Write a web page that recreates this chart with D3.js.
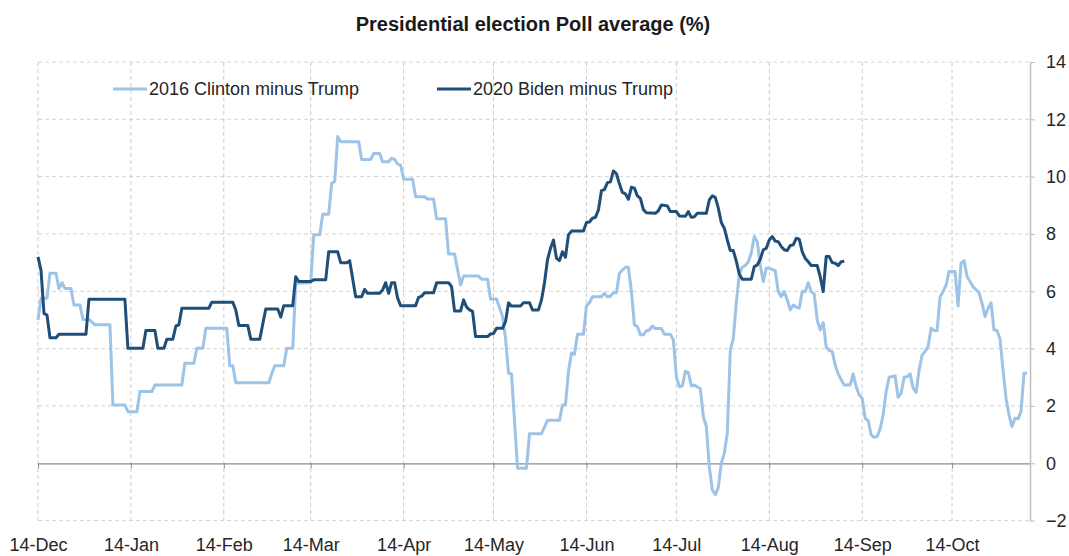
<!DOCTYPE html>
<html>
<head>
<meta charset="utf-8">
<script src="https://cdn.jsdelivr.net/npm/d3@7"></script>
<style>
  body { margin: 0; background: #ffffff; }
  svg { display: block; }
  text { font-family: "Liberation Sans", Arial, sans-serif; fill: #262626; }
</style>
</head>
<body>
<svg id="chart" width="1069" height="556"></svg>
<script>
// Campaign calendar: day 0 is 14 December of the pre-election year.
const startDate = new Date(2015, 11, 14);
const endDate = new Date(2016, 10, 9);

// Month labels along the bottom (the 14th of each month)
const monthLabels = ["14-Dec", "14-Jan", "14-Feb", "14-Mar", "14-Apr", "14-May",
                     "14-Jun", "14-Jul", "14-Aug", "14-Sep", "14-Oct"];
const yTicks = [-2, 0, 2, 4, 6, 8, 10, 12, 14];

// 2016: Clinton minus Trump (days since 14 Dec, poll-average margin in points)
const clintonDays = [0,1,3,4,6,7,8,9,11,12,14,15,17,19,24,25,29,30,33,34,38,39,48,49,52,53,55,56,63,64,65,66,77,78,79,82,83,85,86,91,92,94,95,97,98,99,100,101,107,108,111,112,114,115,117,118,119,120,121,122,125,126,129,130,132,133,136,137,139,141,142,147,148,150,151,153,155,156,157,158,160,163,164,168,170,174,175,176,177,178,179,180,182,183,184,185,188,189,190,191,192,193,194,195,196,197,198,199,200,201,202,203,204,205,206,208,209,211,212,213,214,215,216,217,218,219,221,222,223,224,225,226,227,228,229,230,231,232,233,234,235,236,237,238,239,240,241,242,243,244,246,247,248,249,250,251,252,253,254,255,256,257,258,259,260,261,262,263,264,265,266,267,268,269,271,272,273,274,275,276,277,278,279,280,281,282,283,284,286,287,288,289,290,291,292,293,294,295,296,297,298,299,300,301,302,303,304,306,307,308,309,310,311,312,314,315,316,317,318,319,320,321,322,323,324,325,326,327,328,329,330];
const clintonValues = [5.0,5.76,5.76,6.63,6.63,6.1,6.3,6.1,6.1,5.52,5.52,5.02,5.02,4.83,4.83,2.03,2.03,1.8,1.8,2.5,2.5,2.73,2.73,3.49,3.49,4.01,4.01,4.71,4.71,3.4,3.4,2.81,2.81,3.12,3.4,3.4,4.01,4.01,6.28,6.3,7.97,7.97,8.69,8.69,9.77,9.83,11.4,11.22,11.22,10.6,10.6,10.81,10.81,10.52,10.52,10.64,10.6,10.44,10.4,9.91,9.91,9.3,9.3,9.22,9.22,8.53,8.53,7.3,7.3,6.22,6.53,6.53,6.42,6.42,5.73,5.73,5.12,4.36,3.14,3.12,-0.17,-0.17,1.03,1.03,1.5,1.5,2.03,2.03,3.2,3.85,3.8,4.5,4.5,5.49,5.6,5.81,5.81,5.93,5.81,5.83,5.95,5.95,6.63,6.74,6.84,6.84,6.0,4.83,4.77,4.48,4.48,4.62,4.65,4.79,4.7,4.7,4.5,4.5,4.3,3.02,2.67,2.7,3.2,3.17,2.7,2.73,2.6,1.63,1.28,-0.12,-0.93,-1.1,-0.85,0.0,0.35,1.05,3.95,4.36,5.6,6.6,6.84,6.9,7.03,7.33,7.91,7.73,6.92,6.34,6.8,6.8,6.72,5.99,5.81,5.99,5.7,5.35,5.52,5.45,5.41,5.99,5.99,6.3,5.99,5.91,5.0,4.65,4.91,4.07,3.93,3.9,3.43,3.12,2.91,2.73,2.73,3.12,2.67,2.38,2.27,1.57,1.49,0.99,0.91,0.93,1.2,1.69,2.5,3.0,3.05,2.3,2.44,3.0,3.02,3.12,2.62,2.47,3.26,3.78,3.9,4.07,4.71,4.63,4.63,5.81,5.99,6.22,6.69,6.69,5.49,6.98,7.07,6.51,6.34,6.16,5.95,5.58,5.12,5.41,5.6,4.65,4.63,4.33,3.26,2.27,1.69,1.28,1.57,1.55,1.8,3.14,3.14];

// 2020: Biden minus Trump (days since 14 Dec, poll-average margin in points)
const bidenDays = [0,1,2,3,4,6,7,16,17,29,30,35,36,39,40,42,43,45,46,47,48,57,58,65,66,67,70,71,74,76,80,81,82,85,86,87,91,92,96,97,100,101,103,104,106,108,109,110,114,115,116,117,118,119,120,121,126,127,128,129,132,133,137,138,139,141,142,143,144,145,146,150,151,152,153,155,156,157,158,161,162,164,165,167,168,169,170,171,172,173,174,175,176,177,178,182,183,184,185,186,187,188,189,190,191,192,193,194,195,196,197,198,199,200,201,202,203,206,207,208,210,211,213,214,216,217,218,219,220,223,224,225,226,227,228,229,230,231,232,233,234,235,238,239,240,241,242,243,244,245,246,247,248,249,250,251,252,253,254,255,256,257,258,260,261,262,263,264,265,266,267,268,269];
const bidenValues = [7.2,6.74,5.23,5.17,4.38,4.38,4.5,4.5,5.72,5.72,4.01,4.01,4.63,4.63,4.01,4.01,4.33,4.33,4.79,4.83,5.41,5.41,5.62,5.62,5.35,4.81,4.81,4.33,4.33,5.38,5.38,5.1,5.5,5.5,6.51,6.34,6.34,6.4,6.4,7.38,7.38,7.0,7.0,7.07,5.81,5.81,6.07,5.93,5.93,6.05,6.3,5.93,6.3,6.3,5.76,5.5,5.5,5.79,5.83,5.95,5.95,6.3,6.3,6.16,5.31,5.31,5.7,5.45,5.35,5.3,4.42,4.42,4.51,4.53,4.71,4.71,4.94,5.6,5.49,5.49,5.6,5.6,5.35,5.35,5.7,6.3,7.1,7.5,7.79,7.15,7.07,7.38,7.19,7.97,8.1,8.1,8.4,8.42,8.55,8.58,8.84,9.51,9.55,9.79,9.82,10.2,10.1,9.75,9.45,9.4,9.21,9.63,9.6,9.33,9.24,8.85,8.74,8.72,8.81,9.01,8.98,8.78,8.78,8.63,8.62,8.78,8.58,8.6,8.72,8.72,9.19,9.33,9.28,8.9,8.4,8.2,7.79,7.42,7.42,7.05,6.6,6.42,6.42,6.86,6.92,7.12,7.45,7.5,7.79,7.91,7.75,7.73,7.56,7.45,7.42,7.6,7.62,7.85,7.82,7.38,7.15,7.03,6.9,6.9,6.51,5.99,7.21,7.21,7.0,6.98,6.9,7.03,7.05];

const seriesNames = ["2016 Clinton minus Trump", "2020 Biden minus Trump"];
const seriesColors = ["#9dc3e6", "#1f4e79"];

const svg = d3.select("#chart");
const plot = { left: 38, right: 1030, top: 62, bottom: 520.6 };

const x = d3.scaleTime().domain([startDate, endDate]).range([plot.left, plot.right]);
const y = d3.scaleLinear().domain([-2, 14]).range([plot.bottom, plot.top]);
const monthDates = monthLabels.map((_, i) => new Date(2015, 11 + i, 14));
const dayToDate = d => d3.timeDay.offset(startDate, d);

// Title
svg.append("text")
  .attr("x", 533).attr("y", 30.5)
  .attr("text-anchor", "middle")
  .style("font-size", "20px").style("font-weight", "bold")
  .style("fill", "#1a1a1a")
  .text("Presidential election Poll average (%)");

// Dashed gridlines
const grid = svg.append("g");
grid.selectAll("line.h").data(yTicks.filter(v => v !== 0)).join("line")
  .attr("x1", plot.left).attr("x2", plot.right)
  .attr("y1", d => y(d)).attr("y2", d => y(d))
  .attr("stroke", "#d4d4d4").attr("stroke-width", 1).attr("stroke-dasharray", "4,3");
grid.selectAll("line.v").data(monthDates).join("line")
  .attr("x1", d => x(d)).attr("x2", d => x(d))
  .attr("y1", plot.top).attr("y2", plot.bottom)
  .attr("stroke", "#cccccc").attr("stroke-width", 1).attr("stroke-dasharray", "4,3");

// Category axis along zero with small tick marks
const zeroAxis = svg.append("g")
  .attr("transform", `translate(0,${y(0)})`)
  .call(d3.axisBottom(x).tickValues(monthDates).tickSize(5).tickSizeOuter(0).tickFormat(""));
zeroAxis.select(".domain").attr("stroke", "#8c8c8c").attr("stroke-width", 1.2);
zeroAxis.selectAll(".tick line").attr("stroke", "#8c8c8c");

// Month labels at the bottom edge
const labelAxis = svg.append("g")
  .attr("transform", `translate(0,${plot.bottom})`)
  .call(d3.axisBottom(x).tickValues(monthDates).tickSize(0).tickPadding(18)
        .tickFormat((d, i) => monthLabels[i]));
labelAxis.select(".domain").remove();
labelAxis.selectAll("text").style("font-size", "18px").style("font-family", null);

// Value axis on the right
const yAxis = svg.append("g")
  .attr("transform", `translate(${plot.right},0)`)
  .call(d3.axisRight(y).tickValues(yTicks).tickSize(5).tickSizeOuter(0).tickPadding(11));
yAxis.select(".domain").attr("stroke", "#bfbfbf").attr("stroke-width", 1.5);
yAxis.selectAll(".tick line").attr("stroke", "#bfbfbf");
yAxis.selectAll("text").style("font-size", "18px").style("font-family", null);

// Lines
const line = d3.line()
  .x(d => x(dayToDate(d[0])))
  .y(d => y(d[1]));

const series = [
  d3.zip(clintonDays, clintonValues),
  d3.zip(bidenDays, bidenValues)
];

svg.append("g").selectAll("path").data(series).join("path")
  .attr("d", line)
  .attr("fill", "none")
  .attr("stroke", (d, i) => seriesColors[i])
  .attr("stroke-width", 3)
  .attr("stroke-linejoin", "round")
  .attr("stroke-linecap", "butt");

// Legend
const legendX = [113, 437];
const legend = svg.append("g").selectAll("g").data(seriesNames).join("g")
  .attr("transform", (d, i) => `translate(${legendX[i]},89)`);
legend.append("line")
  .attr("x1", 0).attr("x2", 34).attr("y1", 0).attr("y2", 0)
  .attr("stroke", (d, i) => seriesColors[i]).attr("stroke-width", 3);
legend.append("text")
  .attr("x", 36).attr("y", 0).attr("dy", "0.35em")
  .style("font-size", "18px")
  .text(d => d);
</script>
</body>
</html>
